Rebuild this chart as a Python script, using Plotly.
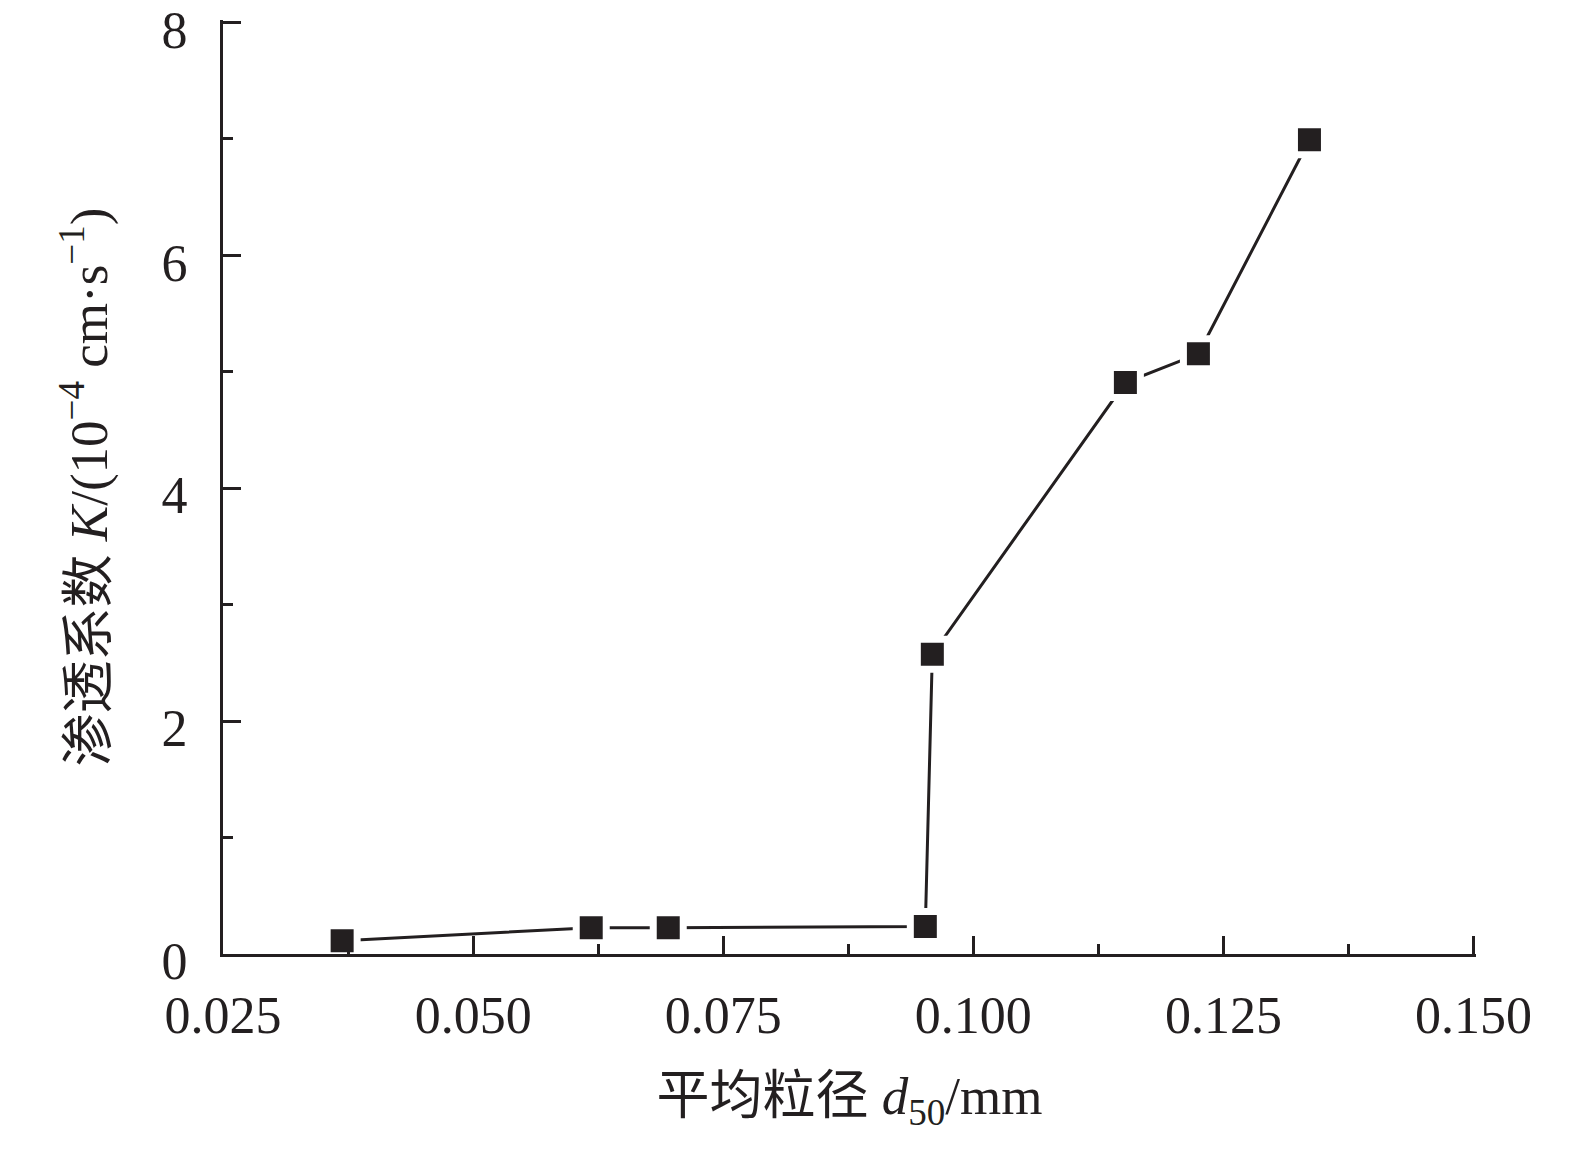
import plotly.graph_objects as go

# Data
d50_mm = [0.0369, 0.0618, 0.0695, 0.0952, 0.0959, 0.1152, 0.1225, 0.1336]
K_1e4_cm_s = [0.114, 0.226, 0.226, 0.235, 2.575, 4.908, 5.155, 6.993]

x_tickvals = [0.025, 0.050, 0.075, 0.100, 0.125, 0.150]
x_ticktext = ["0.025", "0.050", "0.075", "0.100", "0.125", "0.150"]
y_tickvals = [0, 2, 4, 6, 8]
y_ticktext = ["0", "2", "4", "6", "8"]

ink = "#231f20"
font_family = "Liberation Serif, Times New Roman, Noto Sans CJK SC, serif"

fig = go.Figure()
fig.add_trace(go.Scatter(
    x=d50_mm, y=K_1e4_cm_s,
    mode="lines+markers",
    line=dict(color=ink, width=3),
    marker=dict(symbol="square", size=30, color=ink,
                line=dict(color="white", width=7)),
    showlegend=False,
    cliponaxis=False,
))

fig.update_layout(
    width=1575, height=1152,
    margin=dict(l=215, r=107, t=12, b=206, autoexpand=False),
    paper_bgcolor="white", plot_bgcolor="white",
    font=dict(family=font_family, size=52, color=ink),
)

fig.update_xaxes(
    range=[0.02499, 0.15025],
    automargin=False,
    tickvals=x_tickvals, ticktext=x_ticktext,
    ticks="inside", ticklen=18, tickwidth=3, tickcolor=ink,
    minor=dict(tickvals=[0.0375, 0.0625, 0.0875, 0.1125, 0.1375], ticks="inside", ticklen=10, tickwidth=3, tickcolor=ink, showgrid=False),
    showline=True, linecolor=ink, linewidth=3,
    showgrid=False, zeroline=False,
    ticklabelstandoff=14,
    ticklabeloverflow="allow",
    tickfont=dict(family=font_family, size=52, color=ink),
    title=dict(text="平均粒径 <i>d</i><sub>50</sub>/mm",
               font=dict(family=font_family, size=53, color=ink),
               standoff=34),
)

fig.update_yaxes(
    range=[-0.0005, 8.022],
    automargin=False,
    tickvals=y_tickvals, ticktext=y_ticktext,
    ticks="inside", ticklen=18, tickwidth=3, tickcolor=ink,
    minor=dict(tickvals=[1, 3, 5, 7], ticks="inside", ticklen=10, tickwidth=3, tickcolor=ink, showgrid=False),
    showline=True, linecolor=ink, linewidth=3,
    showgrid=False, zeroline=False,
    ticklabelstandoff=22,
    ticklabelshift=7,
    ticklabeloverflow="allow",
    tickfont=dict(family=font_family, size=52, color=ink),
    title=dict(text="渗透系数 <i>K</i>/(10<sup>−4</sup> cm·s<sup>−1</sup>)",
               font=dict(family=font_family, size=53, color=ink),
               standoff=38),
)

fig.write_html("out.html")
